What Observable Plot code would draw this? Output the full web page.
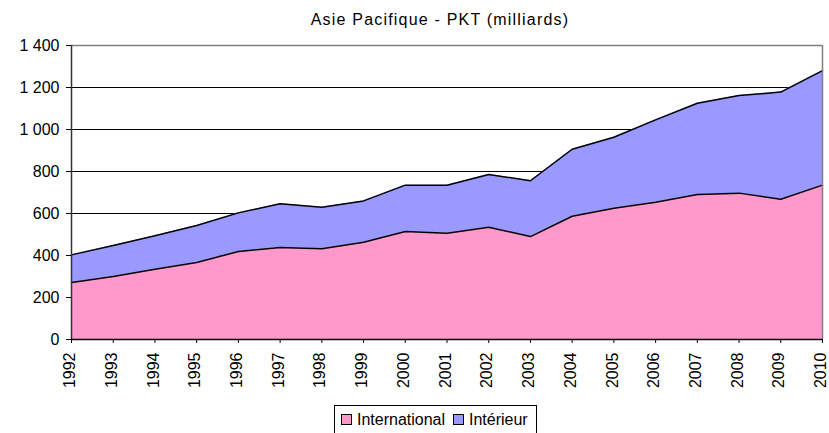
<!DOCTYPE html>
<html>
<head>
<meta charset="utf-8">
<script src="https://cdn.jsdelivr.net/npm/d3@7"></script>
<script src="https://cdn.jsdelivr.net/npm/@observablehq/plot@0.6"></script>
<style>
  body { margin: 0; background: #fff; font-family: "Liberation Sans", Arial, sans-serif; }
  #wrap { position: relative; width: 829px; height: 433px; overflow: hidden; }
  #title { position: absolute; left: 0; width: 880px; top: 11px; text-align: center; font-size: 16px; letter-spacing: 1.2px; color: #000; }
  #legend { position: absolute; left: 334px; top: 405px; width: 203px; height: 40px; border: 1px solid #000; background: #fff; box-sizing: border-box; font-size: 16px; color: #000; }
  .item { position: absolute; top: 5px; white-space: nowrap; }
  .sw { display: inline-block; width: 9px; height: 9px; border: 1px solid #000; margin-right: 5px; vertical-align: 0px; }
</style>
</head>
<body>
<div id="wrap">
  <div id="title">Asie Pacifique - PKT (milliards)</div>
  <div id="chart"></div>
  <div id="legend"></div>
</div>
<script>
const years = [1992,1993,1994,1995,1996,1997,1998,1999,2000,2001,2002,2003,2004,2005,2006,2007,2008,2009,2010];
const international = [271,300,335,367,419,438,432,463,514,506,535,490,587,625,654,690,697,668,735];
const interieur = [132,148,159,176,184,208,198,197,221,229,251,266,319,338,392,435,465,510,545];
const seriesNames = ["International", "Intérieur"];
const seriesColors = ["#ff99cc", "#9999ff"];
const yTicks = [0,200,400,600,800,1000,1200,1400];

const data = [];
years.forEach((yr, i) => {
  data.push({year: yr, series: seriesNames[0], value: international[i]});
  data.push({year: yr, series: seriesNames[1], value: interieur[i]});
});

const fmt = d => d >= 1000 ? `${Math.floor(d/1000)} ${String(d % 1000).padStart(3, "0")}` : String(d);

const chart = Plot.plot({
  width: 829,
  height: 433,
  marginTop: 45,
  marginLeft: 71,
  marginRight: 7,
  marginBottom: 94,
  style: {fontFamily: "'Liberation Sans', Arial, sans-serif", fontSize: "16px", color: "#000", background: "#fff"},
  x: {domain: [1992, 2010]},
  y: {domain: [0, 1400]},
  color: {domain: seriesNames, range: seriesColors},
  marks: [
    Plot.gridY(yTicks.filter(d => d > 0 && d < 1400), {stroke: "#000", strokeOpacity: 1, strokeWidth: 1}),
    Plot.areaY(data, Plot.stackY({x: "year", y: "value", fill: "series", order: seriesNames})),
    Plot.lineY(data, Plot.stackY2({x: "year", y: "value", z: "series", order: seriesNames, stroke: "#000", strokeWidth: 1.5})),
    Plot.ruleY([1400], {stroke: "#808080", strokeWidth: 1.5}),
    Plot.ruleX([2010], {stroke: "#808080", strokeWidth: 1.5}),
    Plot.ruleX([1992], {stroke: "#333", strokeWidth: 1.5}),
    Plot.ruleY([0], {stroke: "#000", strokeWidth: 1.5}),
    Plot.axisY(yTicks, {tickFormat: fmt, tickSize: 5, tickPadding: 7, fontSize: 16, label: null, stroke: "#000"}),
    Plot.axisX(years, {tickFormat: () => "", tickSize: 4, label: null, stroke: "#000"}),
    Plot.axisX(years, {tickFormat: d => String(d), tickRotate: -90, tickSize: 0, tickPadding: 13, dx: -1.5, fontSize: 16, label: null})
  ]
});
document.getElementById("chart").appendChild(chart);

const legend = document.getElementById("legend");
const lefts = [6, 118];
seriesNames.forEach((name, i) => {
  const it = document.createElement("div");
  it.className = "item";
  it.style.left = lefts[i] + "px";
  const sw = document.createElement("span");
  sw.className = "sw";
  sw.style.background = seriesColors[i];
  it.appendChild(sw);
  it.appendChild(document.createTextNode(name));
  legend.appendChild(it);
});
</script>
</body>
</html>
